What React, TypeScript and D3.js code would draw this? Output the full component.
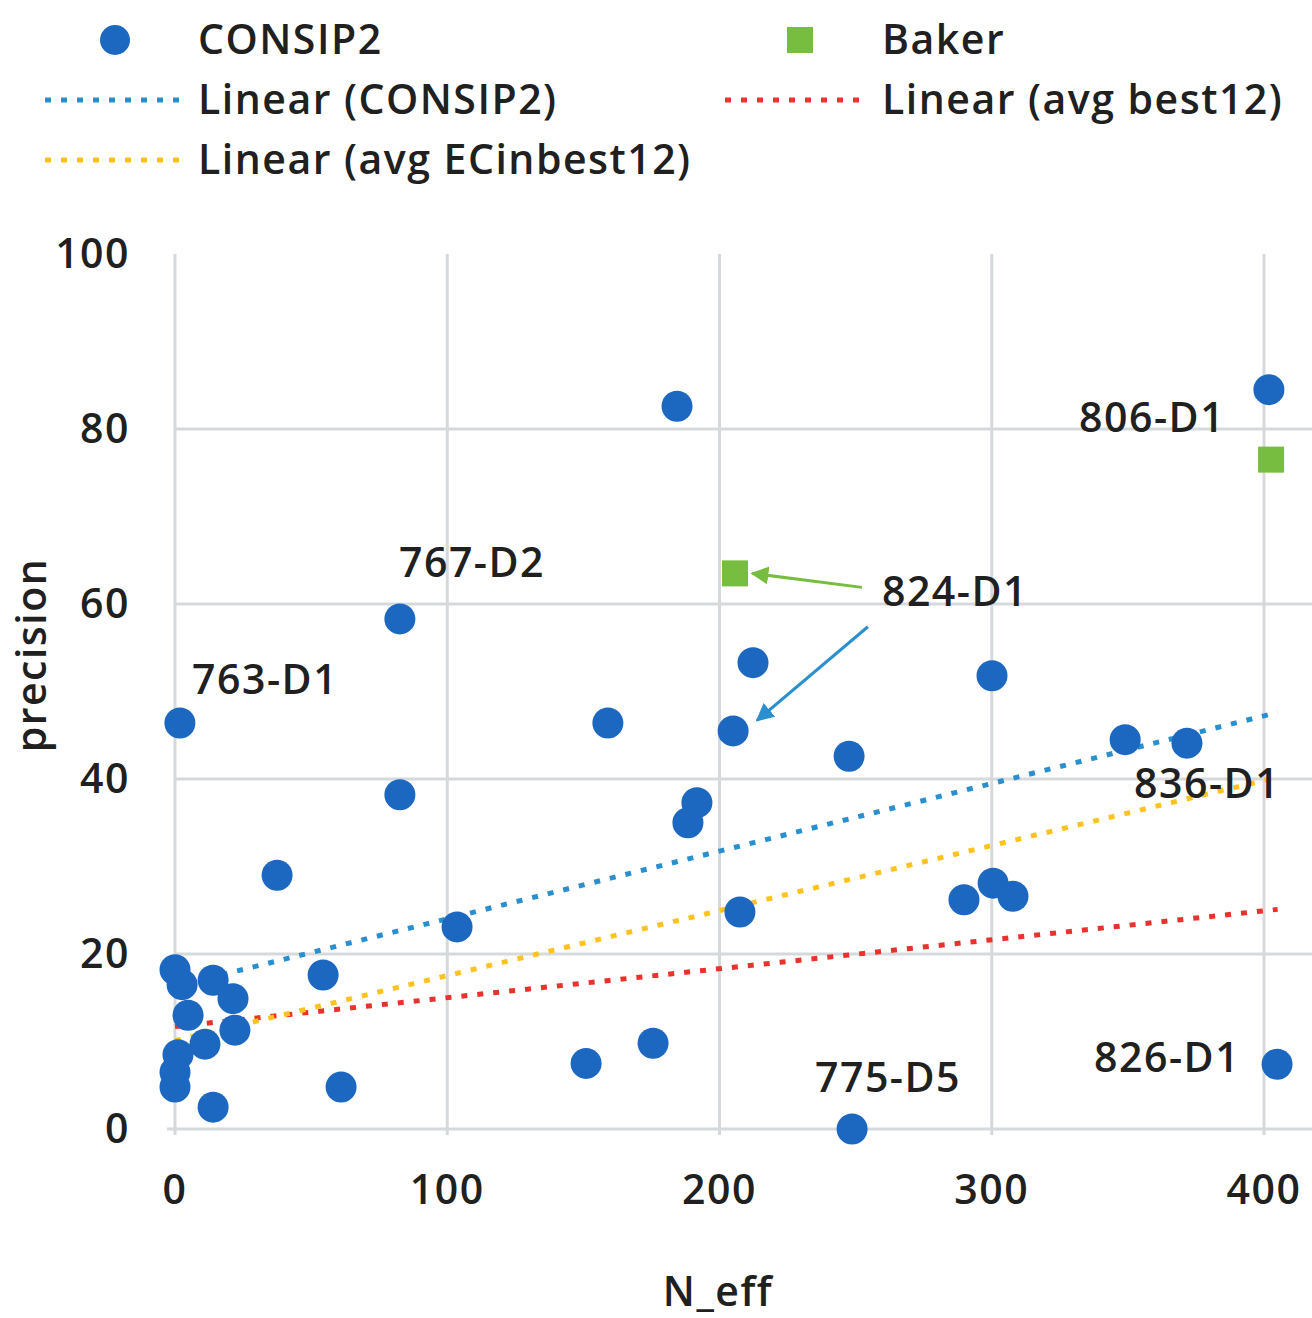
import React, { useEffect, useRef } from 'react';
import * as d3 from 'd3';

// CONSIP2 points (N_eff, precision)
const consipX = [1.8, 82.6, 82.6, 37.5, 184.4, 159.0, 205.0, 212.3, 191.7, 188.4, 247.6, 300.1, 349.0, 371.7,
  207.5, 289.8, 300.5, 307.8, 401.8, 404.8, 248.7, 103.6, 54.4, 61.0, 151.0, 175.6, 14.0,
  0, 2.6, 14.0, 21.3, 4.8, 22.0, 11.0, 1.1, 0, 0];
const consipY = [46.4, 58.3, 38.2, 29.0, 82.6, 46.4, 45.5, 53.3, 37.3, 35.0, 42.6, 51.8, 44.5, 44.1,
  24.8, 26.2, 28.1, 26.6, 84.5, 7.4, 0, 23.1, 17.6, 4.8, 7.5, 9.8, 2.5,
  18.2, 16.5, 17.0, 14.9, 13.0, 11.3, 9.7, 8.5, 6.5, 4.8];

const bakerX = [205.7, 402.6];
const bakerY = [63.5, 76.5];

// trend line end points
const trendConsip = [[0, 16.3], [405, 47.6]];
const trendEC = [[0, 10.1], [405, 40.2]];
const trendBest = [[0, 11.7], [405, 25.1]];

const labelText = ['763-D1', '767-D2', '824-D1', '806-D1', '836-D1', '775-D5', '826-D1'];
const labelX = [33.1, 109.1, 286.5, 358.9, 379.1, 261.9, 364.4];
const labelY = [51.3, 64.7, 61.4, 81.3, 39.5, 5.9, 8.1];

const xTicks = [0, 100, 200, 300, 400];
const yTicks = [0, 20, 40, 60, 80, 100];

const BLUE = '#1c67c0';
const TREND_BLUE = '#2a8fce';
const GREEN = '#77bd3f';
const RED = '#e8322b';
const YELLOW = '#ffc321';
const GRID = '#d6d9dc';
const FONT = '"Open Sans", sans-serif';
const TEXT = '#202020';

// shared text style
function styleText(sel: any) {
  return sel
    .style('font-family', FONT)
    .style('font-size', '41px')
    .style('font-weight', 600)
    .style('letter-spacing', '1.5px')
    .style('fill', TEXT);
}

export default function App() {
  const ref = useRef<SVGSVGElement>(null);

  useEffect(() => {
    const svg = d3.select(ref.current);
    svg.selectAll('*').remove();

    const x = d3.scaleLinear().domain([0, 400]).range([175, 1264]);
    const y = d3.scaleLinear().domain([0, 100]).range([1129, 254]);

    const defs = svg.append('defs');
    [['arrG', GREEN], ['arrB', TREND_BLUE]].forEach(([id, c]) => {
      defs.append('marker')
        .attr('id', id)
        .attr('viewBox', '0 0 10 10')
        .attr('refX', 9).attr('refY', 5)
        .attr('markerWidth', 6).attr('markerHeight', 6)
        .attr('markerUnits', 'strokeWidth')
        .attr('orient', 'auto')
        .append('path')
        .attr('d', 'M0,0 L10,5 L0,10 z')
        .attr('fill', c);
    });

    // gridlines
    svg.append('g').selectAll('line.h')
      .data(yTicks.filter((d) => d > 0 && d < 100))
      .enter().append('line')
      .attr('x1', x(0)).attr('x2', 1312)
      .attr('y1', (d) => y(d)).attr('y2', (d) => y(d))
      .attr('stroke', GRID).attr('stroke-width', 3);
    svg.append('g').selectAll('line.v')
      .data(xTicks)
      .enter().append('line')
      .attr('x1', (d) => x(d)).attr('x2', (d) => x(d))
      .attr('y1', y(100)).attr('y2', y(0) + 6)
      .attr('stroke', GRID).attr('stroke-width', 3);
    svg.append('line')
      .attr('x1', x(0) - 8).attr('x2', 1312)
      .attr('y1', y(0)).attr('y2', y(0))
      .attr('stroke', GRID).attr('stroke-width', 3);

    // tick labels
    styleText(svg.append('g').selectAll('text')
      .data(yTicks)
      .enter().append('text')
      .attr('x', 130).attr('y', (d) => y(d))
      .attr('dy', '0.35em')
      .attr('text-anchor', 'end'))
      .text((d) => d);
    styleText(svg.append('g').selectAll('text')
      .data(xTicks)
      .enter().append('text')
      .attr('x', (d) => x(d)).attr('y', 1190)
      .attr('dy', '0.35em')
      .attr('text-anchor', 'middle'))
      .text((d) => d);

    // axis titles
    styleText(svg.append('text')
      .attr('transform', `translate(32,${655}) rotate(-90)`)
      .attr('dy', '0.35em')
      .attr('text-anchor', 'middle'))
      .text('precision');
    styleText(svg.append('text')
      .attr('x', 718).attr('y', 1292)
      .attr('dy', '0.35em')
      .attr('text-anchor', 'middle'))
      .text('N_eff');

    // trend lines
    const line = d3.line<number[]>().x((d) => x(d[0])).y((d) => y(d[1]));
    [[trendBest, RED], [trendEC, YELLOW], [trendConsip, TREND_BLUE]].forEach(([pts, c]) => {
      svg.append('path')
        .attr('d', line(pts as number[][]))
        .attr('fill', 'none')
        .attr('stroke', c as string)
        .attr('stroke-width', 5)
        .attr('stroke-dasharray', '6,10');
    });

    // CONSIP2 points
    svg.append('g').selectAll('circle')
      .data(consipX.map((v, i) => [v, consipY[i]]))
      .enter().append('circle')
      .attr('cx', (d) => x(d[0]))
      .attr('cy', (d) => y(d[1]))
      .attr('r', 15.5)
      .attr('fill', BLUE);

    // Baker points
    svg.append('g').selectAll('rect')
      .data(bakerX.map((v, i) => [v, bakerY[i]]))
      .enter().append('rect')
      .attr('x', (d) => x(d[0]) - 13)
      .attr('y', (d) => y(d[1]) - 13)
      .attr('width', 26).attr('height', 26)
      .attr('fill', GREEN);

    // point labels
    styleText(svg.append('g').selectAll('text')
      .data(labelText)
      .enter().append('text')
      .attr('x', (d, i) => x(labelX[i]))
      .attr('y', (d, i) => y(labelY[i]))
      .attr('dy', '0.35em')
      .attr('text-anchor', 'middle'))
      .text((d) => d);

    // arrows for 824-D1
    svg.append('line')
      .attr('x1', x(252.3)).attr('y1', y(61.9))
      .attr('x2', x(212.0)).attr('y2', y(63.5))
      .attr('stroke', GREEN).attr('stroke-width', 3)
      .attr('marker-end', 'url(#arrG)');
    svg.append('line')
      .attr('x1', x(254.5)).attr('y1', y(57.4))
      .attr('x2', x(213.8)).attr('y2', y(46.7))
      .attr('stroke', TREND_BLUE).attr('stroke-width', 3)
      .attr('marker-end', 'url(#arrB)');

    // legend
    const lg = svg.append('g');
    lg.append('circle').attr('cx', 115).attr('cy', 40).attr('r', 15).attr('fill', BLUE);
    lg.append('rect').attr('x', 787).attr('y', 27).attr('width', 26).attr('height', 26).attr('fill', GREEN);
    const legendLines = [[45, 180, 100, TREND_BLUE], [725, 862, 100, RED], [45, 180, 160, YELLOW]];
    legendLines.forEach(([a, b, yy, c]) => {
      lg.append('line')
        .attr('x1', a).attr('x2', b).attr('y1', yy).attr('y2', yy)
        .attr('stroke', c as string).attr('stroke-width', 5)
        .attr('stroke-dasharray', '6,10');
    });
    const legendText = [[198, 40, 'CONSIP2'], [882, 40, 'Baker'], [198, 100, 'Linear (CONSIP2)'],
      [882, 100, 'Linear (avg best12)'], [198, 160, 'Linear (avg ECinbest12)']];
    legendText.forEach(([tx, ty, t]) => {
      styleText(lg.append('text')
        .attr('x', tx).attr('y', ty)
        .attr('dy', '0.35em'))
        .text(t as string);
    });
  }, []);

  return (
    <svg ref={ref} width={1312} height={1318}
      style={{ position: 'absolute', left: 0, top: 0, background: '#fff' }} />
  );
}
